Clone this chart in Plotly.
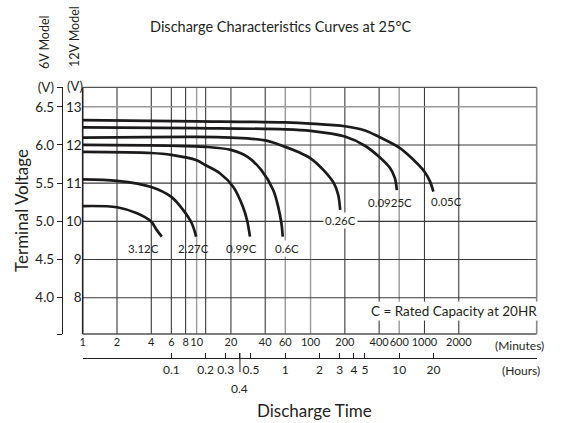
import math
import plotly.graph_objects as go

W, H = 563, 423
FONT = "Lato"
INK = "#231f20"

# ---------------- data (12V model voltages, minutes) ----------------
SERIES_NAMES = ["3.12C", "2.27C", "0.99C", "0.6C", "0.26C", "0.0925C", "0.05C"]

T_312 = [1, 2, 3, 4, 4.47, 4.95]
V_312 = [10.40, 10.37, 10.21, 9.99, 9.77, 9.60]

T_227 = [1, 2, 4, 6, 7.6, 9.06, 9.9]
V_227 = [11.10, 11.06, 10.90, 10.64, 10.30, 9.95, 9.60]

T_099 = [1, 4, 6, 10, 12, 16, 21, 25.5, 27.7, 29.4]
V_099 = [11.82, 11.79, 11.74, 11.60, 11.47, 11.26, 10.90, 10.38, 10.03, 9.60]

T_06 = [1, 6, 12, 20, 28, 37, 47, 52, 55.5, 57]
V_06 = [12.00, 11.98, 11.95, 11.87, 11.69, 11.34, 10.82, 10.38, 9.95, 9.60]

T_026 = [1, 10, 20, 40, 60, 80, 100, 130, 160, 175, 182]
V_026 = [12.19, 12.21, 12.19, 12.12, 11.95, 11.80, 11.65, 11.34, 11.00, 10.69, 10.30]

T_00925 = [1, 10, 60, 100, 200, 300, 400, 500, 550, 572]
V_00925 = [12.46, 12.44, 12.41, 12.37, 12.22, 11.98, 11.69, 11.39, 11.13, 10.82]

T_005 = [1, 10, 60, 100, 200, 300, 400, 600, 750, 1000, 1120, 1197]
V_005 = [12.65, 12.62, 12.59, 12.56, 12.49, 12.38, 12.21, 11.93, 11.69, 11.30, 11.04, 10.78]

SERIES_T = [T_312, T_227, T_099, T_06, T_026, T_00925, T_005]
SERIES_V = [V_312, V_227, V_099, V_06, V_026, V_00925, V_005]
# label offsets (px) from each curve's end point
LABEL_DX = [-18, -3, -8, 4, 0, -7, 13]
LABEL_DY = [-12, -12, -12, -12, -11, -12, -10]
LABEL_BG = [None, None, None, "white", "white", None, None]

# axes
MIN_TICKS = [1, 2, 4, 6, 8, 10, 20, 40, 60, 100, 200, 400, 600, 1000, 2000]
MIN_TEXT = ["1", "2", "4", "6", "8", "10", "20", "40", "60", "100", "200", "400", "600", "1000", "2000"]
HOUR_TICKS = [0.1, 0.2, 0.3, 0.4, 0.5, 1, 2, 3, 4, 5, 10, 20]
HOUR_TEXT = ["0.1", "0.2", "0.3", "", "0.5", "1", "2", "3", "4", "5", "10", "20"]
V12_TICKS = [8, 9, 10, 11, 12, 13]
V6_TICKS = [4.0, 4.5, 5.0, 5.5, 6.0, 6.5]
GRID_X_DARK = [2, 4, 6, 8, 12, 20, 40, 200, 400, 1000, 2000]
GRID_X_GRAY = [10, 60, 100, 600]
GRID_Y_DARK = [8, 9, 10, 11, 12]
GRID_Y_GRAY = [13]

X_LOG_RANGE = [0, 3.985]
Y_RANGE = [7.05, 13.51]
X_END = 10 ** X_LOG_RANGE[1]


def px(x):
    return x / W


def py(y):
    return 1 - y / H


fig = go.Figure()

for name, t, v in zip(SERIES_NAMES, SERIES_T, SERIES_V):
    fig.add_trace(go.Scatter(x=t, y=v, mode="lines", name=name,
                             line=dict(color="#1c1a1b", width=2.7, shape="spline", smoothing=0.9),
                             hoverinfo="skip", showlegend=False))

# invisible helpers so that overlay axes are drawn
fig.add_trace(go.Scatter(x=[1], y=[V6_TICKS[0]], xaxis="x", yaxis="y2", mode="markers",
                         marker=dict(opacity=0), showlegend=False, hoverinfo="skip"))
fig.add_trace(go.Scatter(x=[1], y=[V12_TICKS[0]], xaxis="x2", yaxis="y", mode="markers",
                         marker=dict(opacity=0), showlegend=False, hoverinfo="skip"))

shapes = []
for g in GRID_X_DARK:
    shapes.append(dict(type="line", xref="x", yref="y domain", x0=g, x1=g, y0=0, y1=1,
                       line=dict(color="#3a3a3a", width=1.1), layer="below"))
for g in GRID_X_GRAY:
    shapes.append(dict(type="line", xref="x", yref="y domain", x0=g, x1=g, y0=0, y1=1,
                       line=dict(color="#9a9a9a", width=1.4), layer="below"))
for g in GRID_Y_DARK:
    shapes.append(dict(type="line", xref="x domain", yref="y", x0=0, x1=1, y0=g, y1=g,
                       line=dict(color="#3a3a3a", width=1.1), layer="below"))
for g in GRID_Y_GRAY:
    shapes.append(dict(type="line", xref="x domain", yref="y", x0=0, x1=1, y0=g, y1=g,
                       line=dict(color="#9a9a9a", width=1.4), layer="below"))
# frame
shapes += [
    dict(type="line", xref="x domain", yref="y domain", x0=0, x1=0, y0=0, y1=1, line=dict(color=INK, width=1.6)),
    dict(type="line", xref="x domain", yref="y domain", x0=0, x1=1, y0=0, y1=0, line=dict(color="#555", width=1.6)),
    dict(type="line", xref="x domain", yref="y domain", x0=0, x1=1, y0=1, y1=1, line=dict(color="#555", width=1.3)),
    dict(type="line", xref="x domain", yref="y domain", x0=1, x1=1, y0=0, y1=1, line=dict(color="#888", width=1.6)),
]
# long tick for 0.4 h
shapes.append(dict(type="line", xref="x2", yref="paper", x0=HOUR_TICKS[3] * 60, x1=HOUR_TICKS[3] * 60,
                   y0=py(372), y1=py(353), line=dict(color=INK, width=1)))


def note(x, y, text, size, xref="paper", yref="paper", **kw):
    d = dict(x=x, y=y, xref=xref, yref=yref, text=text, showarrow=False,
             xanchor="center", yanchor="middle", font=dict(family=FONT, size=size, color=INK))
    d.update(kw)
    return d


ann = []
for name, t, v, dx, dy, bg in zip(SERIES_NAMES, SERIES_T, SERIES_V, LABEL_DX, LABEL_DY, LABEL_BG):
    kw = dict(xshift=dx, yshift=dy)
    if bg:
        kw.update(bgcolor=bg, borderpad=1)
    ann.append(note(math.log10(t[-1]), v[-1], name, 11.5, xref="x", yref="y", **kw))

ann += [
    note(px(280), py(27), "Discharge Characteristics Curves at 25°C", 14.5),
    note(px(44), py(42), "6V Model", 12.5, textangle=-90),
    note(px(74), py(37), "12V Model", 12.5, textangle=-90),
    note(px(22), py(211), "Terminal Voltage", 17, textangle=-90),
    note(px(314), py(410), "Discharge Time", 17),
    note(px(519), py(345), "(Minutes)", 12),
    note(px(521), py(370), "(Hours)", 12),
    note(px(75), py(86), "(V)", 13),
    note(math.log10(HOUR_TICKS[3] * 60), py(388), "0.4", 12, xref="x2"),
    note(px(454), py(311), "C = Rated Capacity at 20HR", 13.5, bgcolor="white"),
]

fig.update_layout(
    width=W, height=H,
    margin=dict(l=0, r=0, t=0, b=0, autoexpand=False),
    paper_bgcolor="white", plot_bgcolor="white",
    showlegend=False,
    xaxis=dict(type="log", range=X_LOG_RANGE, domain=[px(82.7), px(536.7)], anchor="y",
               tickvals=MIN_TICKS, ticktext=MIN_TEXT, ticks="", tickangle=0, automargin=False,
               showgrid=False, zeroline=False,
               showline=False, tickfont=dict(family=FONT, size=11, color=INK)),
    xaxis2=dict(type="log", range=X_LOG_RANGE, domain=[px(82.7), px(536.7)], overlaying="x",
                anchor="free", position=py(358.3), side="bottom", tickangle=0, automargin=False,
                tickvals=[1] + [h * 60 for h in HOUR_TICKS] + [X_END],
                ticktext=[""] + HOUR_TEXT + [""],
                ticks="inside", ticklen=5, tickcolor=INK, showline=True, linecolor=INK, linewidth=1,
                showgrid=False, zeroline=False, tickfont=dict(family=FONT, size=12, color=INK)),
    yaxis=dict(range=Y_RANGE, domain=[py(334), py(87.3)], anchor="x", automargin=False,
               tickvals=V12_TICKS, ticktext=[str(v) for v in V12_TICKS], ticks="",
               showgrid=False, zeroline=False, showline=False,
               tickfont=dict(family=FONT, size=13.5, color=INK)),
    yaxis2=dict(range=[Y_RANGE[0] / 2, Y_RANGE[1] / 2], domain=[py(334), py(87.3)], overlaying="y",
                anchor="free", position=px(62), side="left", automargin=False,
                tickvals=[Y_RANGE[0] / 2] + V6_TICKS + [Y_RANGE[1] / 2],
                ticktext=[""] + ["%.1f" % v for v in V6_TICKS] + ["(V)"],
                ticks="outside", ticklen=5, tickcolor=INK, showline=True, linecolor=INK, linewidth=1.2,
                showgrid=False, zeroline=False, tickfont=dict(family=FONT, size=13.5, color=INK)),
    shapes=shapes,
    annotations=ann,
)

fig.write_html("out.html", config={"displayModeBar": False},
               post_script="document.body.style.margin='0';")
